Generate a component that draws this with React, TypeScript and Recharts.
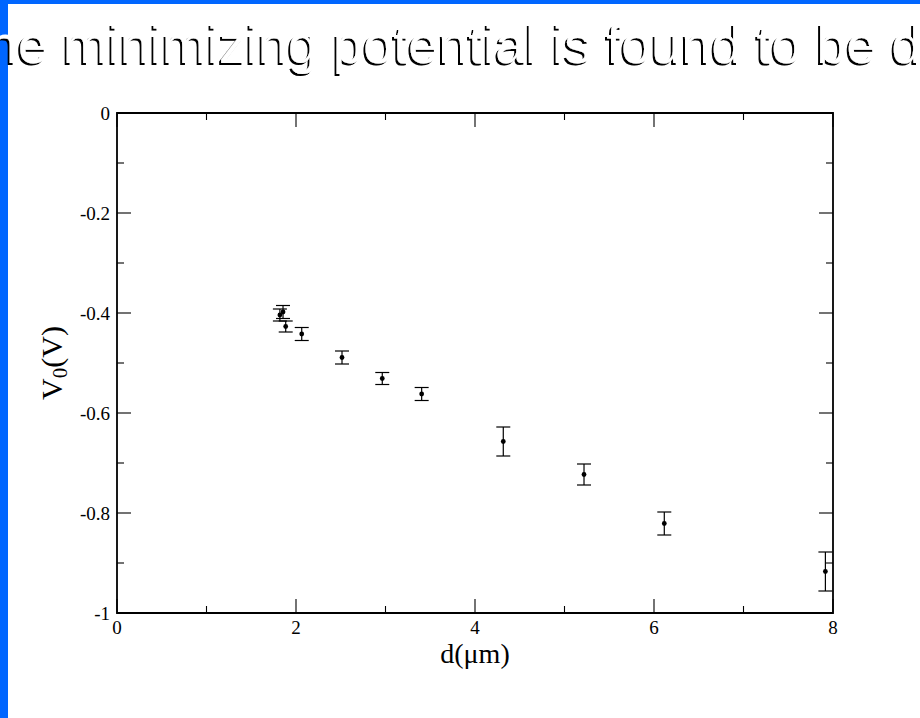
import React from 'react';
import { ScatterChart, Scatter, XAxis, YAxis, ErrorBar, ReferenceArea } from 'recharts';

// Measured minimizing potential V0 versus separation d
const distance = [1.82, 1.855, 1.885, 2.064, 2.514, 2.964, 3.404, 4.316, 5.218, 6.115, 7.915];
const potential = [-0.404, -0.398, -0.427, -0.442, -0.489, -0.531, -0.562, -0.657, -0.723, -0.821, -0.917];
const potentialError = [0.012, 0.013, 0.011, 0.013, 0.013, 0.012, 0.013, 0.029, 0.021, 0.023, 0.039];

const xTicks = [0, 1, 2, 3, 4, 5, 6, 7, 8];
const xLabelTicks = [0, 2, 4, 6, 8];
const yTicks = [0, -0.1, -0.2, -0.3, -0.4, -0.5, -0.6, -0.7, -0.8, -0.9, -1];
const yLabelTicks = [0, -0.2, -0.4, -0.6, -0.8, -1];

const slideTitle = 'he minimizing potential is found to be de';
const xTitle = 'd(μm)';

const W = 920;
const H = 718;
const margin = { top: 113, right: 87, bottom: 75, left: 57 };
const Y_AXIS_W = 60;
const X_AXIS_H = 30;
const PLOT_LEFT = margin.left + Y_AXIS_W;
const PLOT_W = W - PLOT_LEFT - margin.right;
const PLOT_H = H - margin.top - margin.bottom - X_AXIS_H;

const serif = '"Liberation Serif", "Times New Roman", serif';
const sans = '"Liberation Sans", Arial, sans-serif';

const rows = distance.map((d, i) => ({ d, v: potential[i], err: potentialError[i] }));

const isLabelled = (list: number[], v: number) => list.some((t) => Math.abs(t - v) < 1e-9);

const XTick = (props: any) => {
  const { x, y, payload } = props;
  const major = isLabelled(xLabelTicks, payload.value);
  const len = major ? 14 : 7;
  return (
    <g>
      <line x1={x} y1={y} x2={x} y2={y - len} stroke="#000" strokeWidth={1.1} />
      <line x1={x} y1={y - PLOT_H} x2={x} y2={y - PLOT_H + len} stroke="#000" strokeWidth={1.1} />
      {major && (
        <text x={x} y={y + 20.5} textAnchor="middle" fontFamily={serif} fontSize={19} fill="#000">
          {String(payload.value)}
        </text>
      )}
    </g>
  );
};

const YTick = (props: any) => {
  const { x, y, payload } = props;
  const major = isLabelled(yLabelTicks, payload.value);
  const len = major ? 14 : 7;
  const label = Math.abs(payload.value) < 1e-9 ? '0' : String(Math.round(payload.value * 10) / 10);
  return (
    <g>
      <line x1={x} y1={y} x2={x + len} y2={y} stroke="#000" strokeWidth={1.1} />
      <line x1={x + PLOT_W} y1={y} x2={x + PLOT_W - len} y2={y} stroke="#000" strokeWidth={1.1} />
      {major && (
        <text x={x - 7} y={y + 6.5} textAnchor="end" fontFamily={serif} fontSize={19} fill="#000">
          {label}
        </text>
      )}
    </g>
  );
};

const Dot = (props: any) => {
  const { cx, cy } = props;
  return <circle cx={cx} cy={cy} r={2.4} fill="#000" />;
};

export default function App() {
  return (
    <div
      style={{
        position: 'absolute',
        left: 0,
        top: 0,
        width: W,
        height: H,
        background: '#fff',
        overflow: 'hidden',
      }}
    >
      <ScatterChart width={W} height={H} margin={margin}>
        <XAxis
          type="number"
          dataKey="d"
          domain={[0, 8]}
          ticks={xTicks}
          interval={0}
          height={X_AXIS_H}
          axisLine={false}
          tickLine={false}
          tickSize={0}
          tickMargin={0}
          tick={<XTick />}
          allowDataOverflow
        />
        <YAxis
          type="number"
          dataKey="v"
          domain={[-1, 0]}
          ticks={yTicks}
          interval={0}
          width={Y_AXIS_W}
          axisLine={false}
          tickLine={false}
          tickSize={0}
          tickMargin={0}
          tick={<YTick />}
          allowDataOverflow
        />
        <ReferenceArea
          x1={0}
          x2={8}
          y1={-1}
          y2={0}
          fill="none"
          fillOpacity={0}
          stroke="#000"
          strokeWidth={1.8}
          ifOverflow="visible"
        />
        <Scatter data={rows} shape={<Dot />} isAnimationActive={false}>
          <ErrorBar dataKey="err" direction="y" width={7} stroke="#000" strokeWidth={1.2} isAnimationActive={false} />
        </Scatter>
      </ScatterChart>

      <svg width={W} height={H} style={{ position: 'absolute', left: 0, top: 0, pointerEvents: 'none' }}>
        <defs>
          <filter id="titleShadow" x="-5%" y="-20%" width="110%" height="140%">
            <feDropShadow dx={-2} dy={2} stdDeviation={0} floodColor="#000" floodOpacity={1} />
          </filter>
        </defs>
        <rect x={0} y={0} width={W} height={4} fill="#0066ff" />
        <rect x={0} y={0} width={8} height={H} fill="#0066ff" />
        <text x={-12} y={63} fontFamily={sans} fontSize={54} fill="#fff" filter="url(#titleShadow)">
          {slideTitle}
        </text>
        <text
          x={PLOT_LEFT + PLOT_W / 2}
          y={663}
          textAnchor="middle"
          fontFamily={serif}
          fontSize={28}
          fill="#000"
        >
          {xTitle}
        </text>
        <text
          transform={`translate(62, ${margin.top + PLOT_H / 2}) rotate(-90)`}
          textAnchor="middle"
          fontFamily={serif}
          fontSize={30}
          fill="#000"
        >
          <tspan>V</tspan>
          <tspan dy={5} fontSize={21}>0</tspan>
          <tspan dy={-5}>(V)</tspan>
        </text>
      </svg>
    </div>
  );
}
